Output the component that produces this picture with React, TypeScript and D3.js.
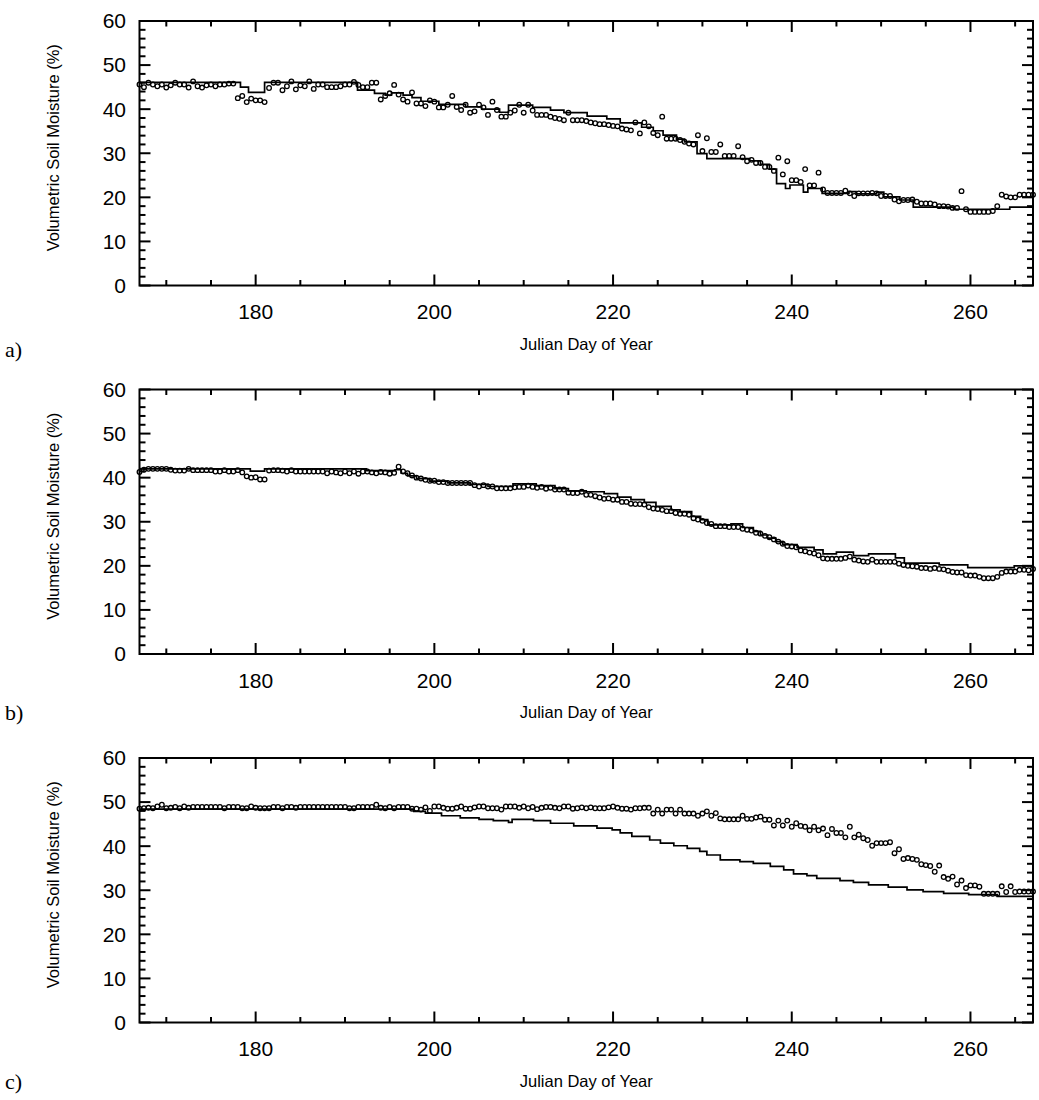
import React from "react";
import * as d3 from "d3";

// ---------- data ----------
const START_DAY = 167;
const DAY_STEP = 0.5;
const X_DOMAIN: [number, number] = [167, 267];
const Y_DOMAIN: [number, number] = [0, 60];
const X_LABEL_TICKS = [180, 200, 220, 240, 260];
const Y_LABEL_TICKS = [0, 10, 20, 30, 40, 50, 60];
const PANEL_LETTERS = ["a)", "b)", "c)"];
const X_TITLE = "Julian Day of Year";
const Y_TITLE = "Volumetric Soil Moisture (%)";

// observed (circles), one value every half day from day 167
const OBS_A = [
  45.6, 45.0, 46.0, 45.6, 45.2, 45.6, 44.9, 45.4, 46.0, 45.6, 45.6, 44.9, 46.3, 45.2, 44.9, 45.4, 45.6, 45.2, 45.6, 45.6, 45.8, 45.8,
  42.5, 43.0, 41.6, 42.4, 42.0, 42.0, 41.6,
  44.8, 46.0, 46.0, 44.3, 45.2, 46.3, 44.5, 45.4, 45.2, 46.3, 44.6, 45.6, 45.6, 45.0, 45.0, 45.0, 45.2, 45.6, 45.6, 46.2, 45.5, 45.0, 45.0, 46.0, 46.0,
  42.2, 43.0, 43.6, 45.5, 43.3, 42.2, 41.7, 43.8, 41.3, 41.3,
  40.7, 42.0, 41.7, 40.4, 40.4, 41.0, 43.0, 40.5, 39.8, 41.0,
  39.2, 39.5, 41.0, 40.4, 38.7, 41.7, 39.8, 38.3, 38.3, 39.2,
  39.7, 41.0, 39.2, 41.0, 39.7, 38.7, 38.7, 38.7, 38.3, 38.0,
  37.8, 37.5, 39.2, 37.5, 37.5, 37.5, 37.3, 37.0, 36.8, 36.6,
  36.6, 36.4, 36.2, 36.1, 35.6, 35.4, 35.2, 37.0, 34.5, 37.0,
  36.1, 34.6, 34.1, 38.3, 33.3, 33.3, 33.3, 33.0, 32.6,
  32.2, 32.0, 34.1, 30.5, 33.4, 30.3, 30.3, 32.0, 29.4, 29.4,
  29.4, 31.6, 29.1, 28.2, 28.5, 27.8, 27.8, 26.9, 26.9, 26.0,
  29.0, 25.2, 28.2, 23.9, 23.9, 23.5, 26.4, 22.7, 22.7, 25.6,
  21.8, 21.0, 21.0, 21.0, 21.0, 21.5, 20.9, 20.3, 20.9, 20.9,
  20.9, 21.0, 20.9, 20.3, 20.3, 20.3, 19.5, 19.1, 19.4, 19.4,
  19.5, 19.0, 18.6, 18.6, 18.6, 18.4, 18.0, 18.0, 17.9, 17.6,
  17.6, 21.4, 17.3, 16.7, 16.7, 16.7, 16.7, 16.7, 16.9, 18.0,
  20.6, 20.2, 20.0, 20.0, 20.6, 20.6, 20.6, 20.6,
];

const OBS_B = [
  41.3, 41.8, 42.0, 42.0, 42.0, 42.0, 42.0, 41.8, 41.6, 41.6, 41.6, 42.0, 41.7, 41.7, 41.7, 41.7, 41.7, 41.4, 41.4, 41.7, 41.4, 41.4,
  41.7, 41.2, 40.3, 40.0, 40.1, 39.6, 39.6,
  41.6, 41.7, 41.7, 41.6, 41.4, 41.7, 41.4, 41.4, 41.4, 41.4, 41.4, 41.4, 41.4, 41.0, 41.4, 41.2, 41.0, 41.4, 41.0, 41.4, 40.9, 41.4, 41.4, 41.2, 41.0,
  41.3, 41.2, 40.9, 41.1, 42.5, 41.4, 41.0, 40.5, 40.0, 39.8,
  39.5, 39.3, 39.3, 39.0, 39.0, 38.8, 38.8, 38.8, 38.8, 38.8,
  38.8, 38.3, 38.0, 38.3, 38.0, 38.0, 37.6, 37.6, 37.6, 37.6,
  37.8, 37.9, 37.9, 38.2, 37.9, 37.7, 37.9, 37.5, 37.7, 37.3,
  37.3, 37.3, 36.6, 36.5, 36.5, 36.8, 36.1, 36.1, 35.8, 35.5,
  35.2, 35.3, 35.0, 35.0, 34.5, 34.5, 34.1, 34.0, 34.0, 33.9,
  33.3, 33.0, 32.9, 32.7, 32.4, 32.4, 32.0, 31.8, 31.8,
  31.6, 30.8, 30.5, 30.2, 29.7, 29.5, 29.0, 29.0, 29.0, 28.8,
  28.8, 28.8, 28.4, 28.2, 28.0, 27.5, 27.3, 26.8, 26.5, 26.0,
  25.5, 25.0, 24.5, 24.4, 24.2, 23.5, 23.3, 23.0, 22.8, 22.4,
  21.7, 21.6, 21.6, 21.6, 21.6, 21.8, 22.1, 21.4, 21.2, 21.0,
  20.9, 21.4, 20.9, 20.9, 20.9, 20.9, 20.9, 20.5, 20.2, 20.0,
  19.9, 19.8, 19.5, 19.5, 19.3, 19.5, 19.3, 19.2, 18.9, 18.6,
  18.5, 18.5, 17.9, 17.8, 17.8, 17.5, 17.2, 17.2, 17.2, 17.5,
  18.4, 18.7, 18.7, 18.7, 19.1, 19.1, 19.0, 19.3,
];

const OBS_C = [
  48.5, 48.6, 48.7, 48.6, 49.0, 49.4, 48.6, 48.7, 48.9, 48.6, 49.0, 48.7, 48.9, 48.9, 48.9, 48.9, 48.9, 48.9, 48.9, 48.6, 48.9, 48.9,
  48.9, 48.6, 48.6, 49.0, 48.7, 48.6, 48.6,
  48.6, 48.9, 48.9, 48.6, 48.9, 48.9, 48.7, 48.9, 48.9, 48.9, 48.9, 48.9, 48.9, 48.9, 48.9, 48.9, 48.9, 48.9, 48.6, 48.6, 48.9, 48.9, 48.9, 48.9, 49.4,
  48.7, 48.6, 48.9, 48.6, 48.9, 48.9, 48.9, 48.5, 48.5, 48.3,
  48.8, 48.0, 49.0, 49.0, 48.7, 48.5, 48.5, 48.7, 49.0, 48.5,
  48.5, 48.8, 49.0, 49.0, 48.6, 48.6, 48.6, 48.3, 49.0, 49.0,
  49.0, 48.7, 49.0, 48.6, 48.9, 48.4, 48.7, 48.9, 48.9, 48.7,
  48.6, 49.0, 49.0, 48.5, 48.6, 48.8, 48.6, 48.8, 48.6, 48.6,
  48.6, 48.8, 49.0, 48.7, 48.5, 48.5, 48.3, 48.6, 48.6, 48.7,
  48.7, 47.4, 48.3, 47.4, 48.3, 48.3, 47.4, 48.3, 47.4,
  47.4, 47.4, 46.9, 47.4, 47.9, 46.9, 47.5, 46.3, 46.1, 46.1,
  46.1, 46.1, 46.9, 46.2, 46.2, 46.5, 46.7, 46.0, 46.0, 44.7,
  45.8, 44.7, 45.8, 44.4, 45.2, 44.6, 44.4, 43.6, 44.4, 43.6,
  44.0, 42.5, 43.9, 43.0, 43.0, 42.0, 44.4, 42.0, 42.6, 41.8,
  41.4, 40.1, 40.7, 40.7, 40.7, 40.9, 38.4, 39.3, 37.1, 37.3,
  37.1, 36.9, 35.9, 35.7, 35.5, 34.2, 35.6, 33.0, 32.6, 33.1,
  31.3, 32.2, 30.5, 31.1, 31.1, 30.8, 29.2, 29.2, 29.2, 29.2,
  30.9, 29.6, 30.9, 29.6, 29.7, 29.7, 29.7, 29.7,
];

// modelled (step line): [day, value] at each change
const MODEL_A: [number, number][] = [
  [167, 46.1], [178.3, 45.0], [179.2, 43.8], [181.0, 46.1], [191.4, 44.3], [193.3, 43.6], [194.5, 43.2],
  [195.2, 43.7], [196.5, 43.2], [197.5, 42.6], [198.5, 41.8], [200.5, 41.1], [203.5, 40.5], [205.3, 40.0],
  [207.3, 39.3], [208.3, 40.9], [211.0, 40.4], [213.0, 39.8], [214.5, 39.2], [217.1, 38.4], [219.3, 37.8],
  [220.8, 36.9], [223.2, 35.9], [224.5, 35.1], [225.6, 34.1], [227.1, 33.2], [228.0, 32.6], [229.4, 29.9],
  [230.5, 28.8], [234.6, 28.8], [235.3, 28.3], [236.5, 27.5], [237.5, 26.4], [238.3, 23.1], [239.3, 22.0],
  [239.8, 22.8], [241.3, 21.2], [241.8, 22.0], [243.4, 20.9], [246.4, 21.3], [247.2, 20.8], [249.5, 21.2],
  [250.3, 20.1], [252.1, 19.4], [253.6, 17.8], [258.1, 17.3], [264.4, 17.8], [267, 17.8],
];

const MODEL_B: [number, number][] = [
  [167, 41.4], [167.5, 42.0], [179.4, 41.5], [181.0, 42.0], [192.4, 41.6], [195.6, 41.8], [196.3, 41.0],
  [197.0, 40.4], [198.0, 39.8], [199.5, 39.2], [201.5, 38.8], [204.0, 38.5], [206.0, 38.0], [208.8, 38.6],
  [211.4, 38.2], [213.5, 37.5], [215.0, 37.0], [217.0, 36.8], [219.0, 36.4], [220.5, 35.6], [222.0, 35.0],
  [223.5, 34.4], [224.8, 33.5], [226.5, 32.7], [227.5, 32.3], [228.8, 31.2], [229.8, 30.5], [230.6, 29.3],
  [233.2, 29.5], [234.5, 28.7], [235.7, 27.8], [236.5, 27.0], [237.3, 26.3], [238.2, 25.5], [239.0, 24.8],
  [240.6, 24.2], [242.5, 23.6], [243.5, 22.7], [245.0, 23.1], [246.9, 22.3], [248.6, 22.7], [251.6, 21.8],
  [252.6, 20.6], [256.5, 20.2], [259.7, 19.6], [264.9, 20.0], [267, 20.0],
];

const MODEL_C: [number, number][] = [
  [167, 48.4], [197.7, 47.9], [199.0, 47.5], [200.8, 46.9], [202.9, 46.4], [205.0, 46.1], [206.6, 45.8],
  [208.3, 45.4], [208.7, 46.1], [211.1, 45.8], [213.0, 45.2], [215.6, 44.6], [218.2, 44.1], [219.9, 43.7],
  [220.8, 43.0], [222.1, 42.2], [224.1, 41.4], [225.3, 40.7], [226.8, 40.1], [228.3, 39.5], [229.7, 38.8],
  [230.5, 38.0], [232.0, 36.9], [234.2, 36.5], [235.7, 36.1], [237.6, 35.4], [239.1, 34.6], [240.2, 33.7],
  [241.7, 33.3], [242.8, 32.7], [245.4, 32.2], [246.9, 31.8], [248.6, 31.2], [250.8, 30.7], [252.9, 30.1],
  [254.7, 29.7], [257.0, 29.3], [259.8, 29.0], [263.0, 28.6], [267, 28.6],
];

const PANELS = [
  { letter: PANEL_LETTERS[0], obs: OBS_A, model: MODEL_A },
  { letter: PANEL_LETTERS[1], obs: OBS_B, model: MODEL_B },
  { letter: PANEL_LETTERS[2], obs: OBS_C, model: MODEL_C },
];

// ---------- layout ----------
const W = 1039;
const H = 1100;
const LEFT = 139.5;
const RIGHT = 1033;
const TOPS = [21, 389.5, 758];
const LETTER_OFFSETS = [71, 66, 66];
const PH = 264.5;
const SANS = "'Liberation Sans', Arial, Helvetica, sans-serif";
const SERIF = "'Liberation Serif', 'Times New Roman', serif";

function Panel({ idx }: { idx: number }) {
  const p = PANELS[idx];
  const top = TOPS[idx];
  const bottom = top + PH;
  const x = d3.scaleLinear().domain(X_DOMAIN).range([LEFT, RIGHT]);
  const y = d3.scaleLinear().domain(Y_DOMAIN).range([bottom, top]);
  const line = d3
    .line<[number, number]>()
    .x((d) => x(d[0]))
    .y((d) => y(d[1]))
    .curve(d3.curveStepAfter);
  const xTicks = d3.range(170, 267, 5);
  const yTicks = d3.range(0, 61, 2);
  const isMajX = (t: number) => X_LABEL_TICKS.includes(t);
  const isMajY = (t: number) => t % 10 === 0;
  const cx = (LEFT + RIGHT) / 2;
  const cy = (top + bottom) / 2;
  return (
    <g>
      {/* data */}
      <path d={line(p.model) || ""} fill="none" stroke="#000" strokeWidth={1.7} />
      {p.obs.map((v, i) => (
        <circle
          key={i}
          cx={x(START_DAY + i * DAY_STEP)}
          cy={y(v)}
          r={2.3}
          fill="none"
          stroke="#000"
          strokeWidth={1.3}
        />
      ))}
      {/* ticks */}
      {xTicks.map((t) => {
        const L = isMajX(t) ? 11 : 5.5;
        return (
          <g key={"x" + t}>
            <line x1={x(t)} x2={x(t)} y1={bottom} y2={bottom - L} stroke="#000" strokeWidth={2} />
            <line x1={x(t)} x2={x(t)} y1={top} y2={top + L} stroke="#000" strokeWidth={2} />
          </g>
        );
      })}
      {yTicks.map((t) => {
        const L = isMajY(t) ? 11 : 6;
        return (
          <g key={"y" + t}>
            <line x1={LEFT} x2={LEFT + L} y1={y(t)} y2={y(t)} stroke="#000" strokeWidth={2} />
            <line x1={RIGHT} x2={RIGHT - L} y1={y(t)} y2={y(t)} stroke="#000" strokeWidth={2} />
          </g>
        );
      })}
      <rect x={LEFT} y={top} width={RIGHT - LEFT} height={PH} fill="none" stroke="#000" strokeWidth={2} />
      {/* tick labels */}
      {X_LABEL_TICKS.map((t) => (
        <text key={"xl" + t} x={x(t)} y={bottom + 33.5} textAnchor="middle" fontFamily={SANS} fontSize={21} fill="#000">
          {t}
        </text>
      ))}
      {Y_LABEL_TICKS.map((t) => (
        <text key={"yl" + t} x={126} y={y(t) + 7.4} textAnchor="end" fontFamily={SANS} fontSize={21} fill="#000">
          {t}
        </text>
      ))}
      <text x={cx} y={bottom + 64} textAnchor="middle" fontFamily={SANS} fontSize={16.5} fill="#000">
        {X_TITLE}
      </text>
      <text
        transform={`translate(${58.5},${cy - 5.5}) rotate(-90)`}
        textAnchor="middle"
        fontFamily={SANS}
        fontSize={16.5}
        fill="#000"
      >
        {Y_TITLE}
      </text>
      <text x={5} y={bottom + LETTER_OFFSETS[idx]} fontFamily={SERIF} fontSize={22} fill="#000">
        {p.letter}
      </text>
    </g>
  );
}

export default function App() {
  return (
    <svg
      width={W}
      height={H}
      viewBox={`0 0 ${W} ${H}`}
      style={{ position: "absolute", left: 0, top: 0, background: "#fff" }}
    >
      <rect x={0} y={0} width={W} height={H} fill="#fff" />
      {PANELS.map((_, i) => (
        <Panel key={i} idx={i} />
      ))}
    </svg>
  );
}
